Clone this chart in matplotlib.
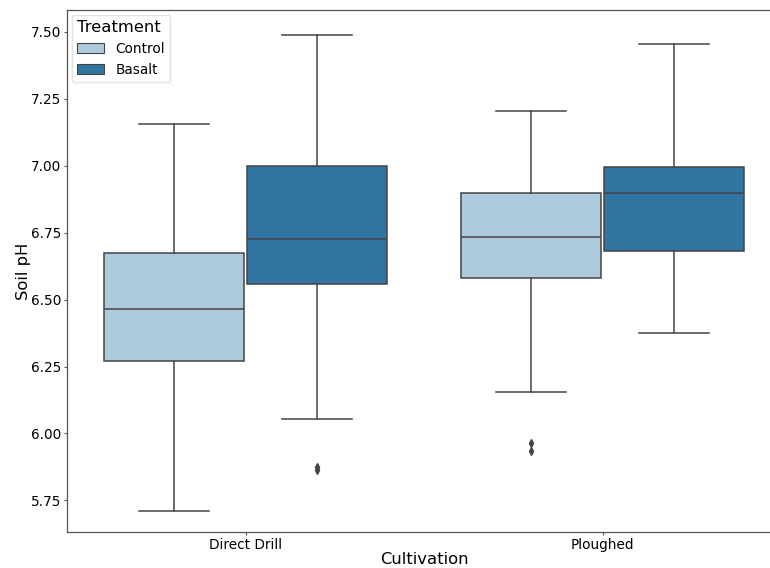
import matplotlib
matplotlib.use('Agg')
import matplotlib.pyplot as plt
from matplotlib.patches import Patch

# box statistics (soil pH)
cultivations = ['Direct Drill', 'Ploughed']
treatments = ['Control', 'Basalt']

# order: DD-Control, DD-Basalt, PL-Control, PL-Basalt
whislo = [5.71, 6.055, 6.155, 6.375]
q1     = [6.27, 6.56, 6.58, 6.68]
med    = [6.465, 6.725, 6.735, 6.90]
q3     = [6.675, 7.00, 6.90, 6.995]
whishi = [7.155, 7.49, 7.205, 7.455]
fliers = [[], [5.875, 5.865], [5.965, 5.935], []]

colors = ['#adcbdc', '#3274a1']
LINE = '#444444'

plt.rcParams['font.family'] = 'DejaVu Sans'

fig = plt.figure(figsize=(7.7, 5.68), dpi=100)
ax = fig.add_axes([67 / 770, 36 / 568, 714 / 770, 522 / 568])

stats = []
for i in range(4):
    stats.append(dict(whislo=whislo[i], q1=q1[i], med=med[i], q3=q3[i],
                      whishi=whishi[i], fliers=fliers[i]))

positions = []
for c in range(len(cultivations)):
    for t in range(len(treatments)):
        positions.append(c + (-0.2 if t == 0 else 0.2))

bp = ax.bxp(stats, positions=positions, widths=0.392, patch_artist=True,
            showfliers=True,
            boxprops=dict(edgecolor=LINE, linewidth=1.1),
            medianprops=dict(color=LINE, linewidth=1.1),
            whiskerprops=dict(color=LINE, linewidth=1.1),
            capprops=dict(color=LINE, linewidth=1.1),
            flierprops=dict(marker='d', markerfacecolor=LINE,
                            markeredgecolor=LINE, markersize=4))
for i, box in enumerate(bp['boxes']):
    box.set_facecolor(colors[i % 2])

ax.set_xlim(-0.5, 1.5)
ax.set_ylim(5.632, 7.582)
ax.set_xticks(range(len(cultivations)))
ax.set_xticklabels(cultivations)
ax.set_yticks([5.75, 6.00, 6.25, 6.50, 6.75, 7.00, 7.25, 7.50])
ax.set_yticklabels(['5.75', '6.00', '6.25', '6.50', '6.75', '7.00', '7.25', '7.50'])
ax.tick_params(labelsize=9.8, color='#555555', length=2.5, pad=1.5)
ax.set_xlabel('Cultivation', fontsize=11.8, labelpad=0)
ax.set_ylabel('Soil pH', fontsize=11.8, labelpad=0)
for s in ax.spines.values():
    s.set_color('#555555')
    s.set_linewidth(0.9)
ax.spines['right'].set_visible(False)

handles = [Patch(facecolor=colors[k], edgecolor=LINE, linewidth=0.8,
                 label=treatments[k]) for k in range(2)]
leg = ax.legend(handles=handles, title='Treatment', loc='upper left',
                fontsize=9.8, title_fontsize=11.8, frameon=True,
                borderaxespad=0.35, handlelength=2.0)
leg.get_frame().set_edgecolor('#dddddd')
leg._legend_box.align = 'left'

fig.savefig('out.png', dpi=100)
